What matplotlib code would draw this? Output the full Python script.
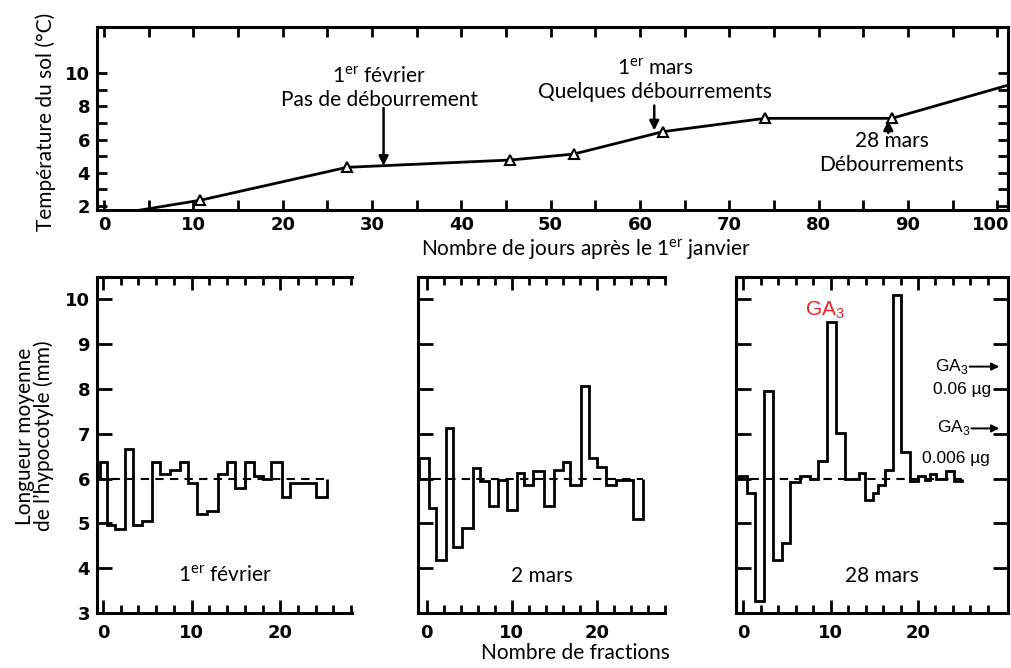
import matplotlib
matplotlib.use('Agg')
import matplotlib.pyplot as plt
import matplotlib.transforms as mtransforms
import numpy as np

plt.rcParams['font.family'] = ['Lato', 'DejaVu Sans']
plt.rcParams['mathtext.fontset'] = 'custom'
plt.rcParams['mathtext.rm'] = 'Lato'
plt.rcParams['mathtext.sf'] = 'Liberation Sans'

# --- courbe de température du sol (panneau du haut)
jours = [4.0, 10.8, 27.2, 45.5, 52.6, 62.6, 74.0, 88.2, 101.3]
temp_sol = [1.75, 2.35, 4.33, 4.77, 5.13, 6.48, 7.28, 7.28, 9.29]

# --- longueur de l'hypocotyle par fraction (bords des marches + valeurs)
bords_fev = [-0.34, 0.4, 1.36, 2.5, 3.4, 4.4, 5.5, 6.4, 7.6, 8.7, 9.6, 10.6, 11.7,
             13.0, 14.0, 14.9, 16.0, 17.0, 18.1, 19.0, 20.2, 21.1, 24.0, 25.3]
long_fev = [6.38, 4.97, 4.88, 6.65, 4.97, 5.05, 6.38, 6.1, 6.2, 6.38, 5.9, 5.2, 5.28,
            6.1, 6.38, 5.8, 6.38, 6.05, 6.0, 6.38, 5.6, 5.9, 5.6]

bords_mars = [-0.85, 0.3, 1.15, 2.3, 3.15, 4.2, 5.4, 6.3, 7.3, 8.45, 9.4, 10.6, 11.5,
              12.5, 13.8, 15.0, 16.0, 16.9, 18.1, 19.1, 20.0, 21.1, 22.2, 24.3, 25.4]
long_mars = [6.47, 5.34, 4.19, 7.14, 4.47, 4.9, 6.24, 5.94, 5.38, 5.96, 5.3, 6.13,
             5.86, 6.16, 5.38, 6.2, 6.38, 5.86, 8.06, 6.47, 6.26, 5.85, 5.97, 5.1]

bords_28 = [-0.5, 0.4, 1.4, 2.4, 3.4, 4.4, 5.4, 6.5, 7.6, 8.6, 9.6, 10.65, 11.6, 13.2,
            13.9, 14.8, 15.4, 16.2, 17.1, 18.05, 19.05, 20.0, 20.8, 21.4, 22.1, 23.2,
            24.1, 25.0]
long_28 = [6.05, 5.68, 3.27, 7.95, 4.19, 4.56, 5.92, 6.05, 5.98, 6.4, 9.5, 7.02, 5.98,
           6.13, 5.52, 5.68, 5.85, 6.2, 10.1, 6.6, 5.94, 6.05, 5.96, 6.1, 5.98, 6.16, 5.94]

W, H = 1012, 668


def box(l, t, r, b):
    return [l / W, 1 - b / H, (r - l) / W, (b - t) / H]


tickfont = dict(fontfamily='DejaVu Sans', fontweight='bold', fontsize=13)
lab = 15

fig = plt.figure(figsize=(W / 100, H / 100), dpi=100)

# ---------------- panneau du haut
ax = fig.add_axes(box(97, 27, 1008, 210))
ax.plot(jours, temp_sol, color='k', lw=2)
ax.plot(jours[1:-1], temp_sol[1:-1], ls='none', marker='^', ms=7.5, mfc='white',
        mec='k', mew=1.5)
ax.set_xlim(-0.78, 101.2)
ax.set_ylim(1.76, 12.78)
ax.set_xticks(range(0, 101, 10), [str(v) for v in range(0, 101, 10)], **tickfont)
ax.set_xticks(range(5, 101, 10), minor=True)
ax.set_yticks([2, 4, 6, 8, 10], ['2', '4', '6', '8', '10'], **tickfont)
ax.set_yticks([3, 5, 7, 9], minor=True)
ax.tick_params(which='both', direction='in', length=7, width=2, top=True, right=True)
ax.tick_params(axis='x', pad=4)
ax.tick_params(axis='y', pad=5)
for s in ax.spines.values():
    s.set_linewidth(2.2)
# le "100" touche le bord droit : on le décale un peu
dernier = ax.get_xticklabels()[-1]
dernier.set_transform(dernier.get_transform() +
                      mtransforms.ScaledTranslation(-7 / 100, 0, fig.dpi_scale_trans))

arr = dict(arrowstyle='-|>', color='k', lw=1.8, mutation_scale=14, shrinkA=0, shrinkB=0)
ax.annotate('', xy=(31.3, 4.42), xytext=(31.3, 7.9), arrowprops=arr)
ax.annotate('', xy=(61.6, 6.55), xytext=(61.6, 8.05), arrowprops=arr)
ax.annotate('', xy=(87.8, 7.15), xytext=(87.8, 6.4), arrowprops=arr, zorder=6)
ax.text(30.8, 9.1, '1$^{\\rm er}$ février\nPas de débourrement', ha='center', va='center',
        fontsize=lab)
ax.text(61.7, 9.6, '1$^{\\rm er}$ mars\nQuelques débourrements', ha='center', va='center',
        fontsize=lab)
ax.text(88.2, 5.19, '28 mars\nDébourrements', ha='center', va='center', fontsize=lab,
        zorder=5, bbox=dict(facecolor='white', edgecolor='none', pad=2))

fig.text(46 / W, 1 - 122 / H, 'Température du sol (°C)', rotation=90, ha='center',
         va='center', fontsize=lab)
fig.text(586 / W, 1 - 250 / H, 'Nombre de jours après le 1$^{\\rm er}$ janvier',
         ha='center', va='center', fontsize=lab)

# ---------------- panneaux du bas
panneaux = [
    (box(97, 277, 352, 613), (-0.68, 28.1), bords_fev, long_fev, '1$^{\\rm er}$ février', 13.7),
    (box(418, 277, 665, 613), (-1.0, 27.5), bords_mars, long_mars, '2 mars', 13.5),
    (box(736, 277, 1008, 613), (-0.83, 30.3), bords_28, long_28, '28 mars', 15.85),
]

axes = []
for i, (pos, xl, bords, vals, titre, xt) in enumerate(panneaux):
    a = fig.add_axes(pos)
    a.stairs(vals, bords, baseline=6.0, fill=False, color='k', lw=2)
    a.hlines(6.0, xl[0], bords[-1], color='k', lw=1.5, linestyles=(0, (4, 3)))
    a.set_xlim(*xl)
    a.set_ylim(3.0, 10.5)
    a.set_xticks([0, 10, 20], ['0', '10', '20'], **tickfont)
    a.set_xticks(np.arange(2, 30, 2), minor=True)
    a.tick_params(axis='x', which='major', direction='in', length=9.5, width=2,
                  top=True, pad=8)
    a.tick_params(axis='x', which='minor', direction='in', length=5.5, width=2, top=True)
    if i == 0:
        a.set_yticks(range(3, 11), [str(v) for v in range(3, 11)], **tickfont)
    else:
        a.set_yticks(range(3, 11), [])
    a.tick_params(axis='y', direction='in', length=10.5, width=2, pad=5,
                  right=(i == 2))
    for s in a.spines.values():
        s.set_linewidth(2.2)
    if i < 2:
        a.spines['right'].set_visible(False)
    a.text(xt, 3.83, titre, ha='center', va='center', fontsize=lab,
           bbox=dict(facecolor='white', edgecolor='none', pad=3))
    axes.append(a)

a3 = axes[2]
a3.text(9.4, 9.76, 'GA$_\\mathsf{3}$', color='#e8262b', ha='center', va='center',
        fontsize=15, fontfamily='Liberation Sans')
arr2 = dict(arrowstyle='-|>', color='k', lw=1.4, mutation_scale=11, shrinkA=0, shrinkB=0)
a3.annotate('', xy=(29.3, 8.5), xytext=(25.9, 8.5), arrowprops=arr2)
a3.annotate('', xy=(29.3, 7.12), xytext=(26.1, 7.12), arrowprops=arr2)
ga = dict(fontsize=12.5, fontfamily='Liberation Sans', va='center', ha='right')
a3.text(25.8, 8.5, 'GA$_\\mathsf{3}$', **ga)
a3.text(28.4, 7.98, '0.06 µg', **ga)
a3.text(26.0, 7.15, 'GA$_\\mathsf{3}$', **ga)
a3.text(28.2, 6.45, '0.006 µg', **ga)

fig.text(25 / W, 1 - 436 / H, 'Longueur moyenne', rotation=90, ha='center',
         va='center', fontsize=lab)
fig.text(43.5 / W, 1 - 436 / H, 'de l’hypocotyle (mm)', rotation=90, ha='center',
         va='center', fontsize=lab)
fig.text(575 / W, 1 - 653 / H, 'Nombre de fractions', ha='center', va='center',
         fontsize=lab)

fig.savefig('out.png', dpi=100)
